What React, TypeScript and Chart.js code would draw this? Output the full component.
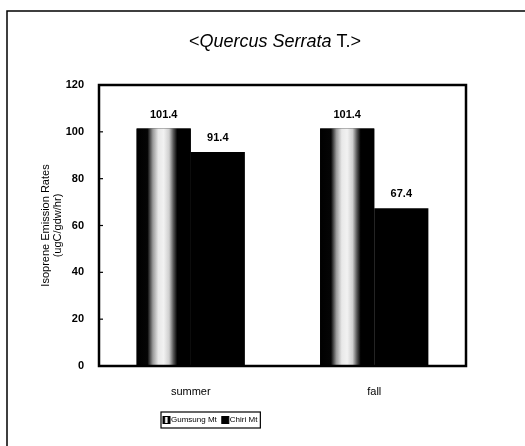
import React, { useEffect, useRef } from "react";
import { Chart, registerables } from "chart.js";

Chart.register(...registerables);

const categories = ["summer", "fall"];
const seriesNames = ["Gumsung Mt", "Chiri Mt"];
const gumsungValues = [101.4, 101.4];
const chiriValues = [91.4, 67.4];
const yTicks = [0, 20, 40, 60, 80, 100, 120];
const titleParts = [
  { text: "<", italic: false },
  { text: "Quercus Serrata", italic: true },
  { text: " T.>", italic: false },
];
const yTitle = ["Isoprene Emission Rates", "(ugC/gdw/hr)"];

const FONT = "'Liberation Sans', Arial, sans-serif";

function stripeGradient(ctx: CanvasRenderingContext2D, x0: number, x1: number) {
  const g = ctx.createLinearGradient(x0, 0, x1, 0);
  g.addColorStop(0, "#000");
  g.addColorStop(0.2, "#050505");
  g.addColorStop(0.3, "#9a9a9a");
  g.addColorStop(0.4, "#e8e8e8");
  g.addColorStop(0.5, "#f2f2f2");
  g.addColorStop(0.6, "#cfcfcf");
  g.addColorStop(0.68, "#555");
  g.addColorStop(0.75, "#000");
  g.addColorStop(1, "#000");
  return g;
}

const decorPlugin = {
  id: "decor",
  afterDatasetsDraw(chart: any) {
    const ctx: CanvasRenderingContext2D = chart.ctx;
    const area = chart.chartArea;
    const meta0 = chart.getDatasetMeta(0);
    meta0.data.forEach((el: any) => {
      const x0 = el.x - el.width / 2;
      const x1 = el.x + el.width / 2;
      ctx.save();
      ctx.fillStyle = stripeGradient(ctx, x0, x1);
      ctx.fillRect(x0, el.y, el.width, el.base - el.y);
      ctx.restore();
    });
    ctx.save();
    ctx.fillStyle = "#000";
    ctx.font = `bold 11px ${FONT}`;
    ctx.textAlign = "center";
    ctx.textBaseline = "middle";
    chart.data.datasets.forEach((ds: any, di: number) => {
      const meta = chart.getDatasetMeta(di);
      meta.data.forEach((el: any, i: number) => {
        ctx.fillText(ds.data[i].toFixed(1), el.x, el.y - 14);
      });
    });
    ctx.restore();
    ctx.save();
    ctx.strokeStyle = "#000";
    ctx.lineWidth = 2.5;
    ctx.strokeRect(area.left, area.top, area.right - area.left, area.bottom - area.top);
    const ys = chart.scales.y;
    ctx.lineWidth = 1.2;
    ys.ticks.forEach((t: any) => {
      const py = ys.getPixelForValue(t.value);
      ctx.beginPath();
      ctx.moveTo(area.left, py);
      ctx.lineTo(area.left + 4, py);
      ctx.stroke();
    });
    ctx.restore();
  },
  afterDraw(chart: any) {
    const ctx: CanvasRenderingContext2D = chart.ctx;
    const area = chart.chartArea;
    ctx.save();
    ctx.strokeStyle = "#000";
    ctx.lineWidth = 1.5;
    ctx.beginPath();
    ctx.moveTo(7, chart.height);
    ctx.lineTo(7, 11);
    ctx.lineTo(chart.width, 11);
    ctx.stroke();
    ctx.restore();

    ctx.save();
    ctx.fillStyle = "#000";
    ctx.textBaseline = "alphabetic";
    ctx.textAlign = "left";
    const fontFor = (it: boolean) => `${it ? "italic " : ""}18px ${FONT}`;
    let total = 0;
    titleParts.forEach((p) => {
      ctx.font = fontFor(p.italic);
      total += ctx.measureText(p.text).width;
    });
    let x = 275 - total / 2;
    titleParts.forEach((p) => {
      ctx.font = fontFor(p.italic);
      ctx.fillText(p.text, x, 47);
      x += ctx.measureText(p.text).width;
    });
    ctx.restore();

    ctx.save();
    ctx.fillStyle = "#000";
    ctx.font = `11px ${FONT}`;
    ctx.textAlign = "center";
    ctx.textBaseline = "middle";
    const cy = (area.top + area.bottom) / 2;
    ctx.translate(46, cy);
    ctx.rotate(-Math.PI / 2);
    ctx.fillText(yTitle[0], 0, 0);
    ctx.fillText(yTitle[1], 0, 12);
    ctx.restore();

    ctx.save();
    ctx.font = `8px ${FONT}`;
    ctx.textBaseline = "middle";
    ctx.textAlign = "left";
    const lx = 161, ly = 412, lh = 16;
    const box = 7;
    let cx = lx + 2;
    const mid = ly + lh / 2;
    chart.data.datasets.forEach((ds: any, i: number) => {
      ctx.fillStyle = i === 0 ? stripeGradient(ctx, cx, cx + box) : "#000";
      ctx.fillRect(cx, mid - box / 2, box, box);
      ctx.strokeStyle = "#000";
      ctx.lineWidth = 1;
      ctx.strokeRect(cx, mid - box / 2, box, box);
      cx += box + 1;
      ctx.fillStyle = "#000";
      ctx.fillText(ds.label, cx, mid);
      cx += ctx.measureText(ds.label).width + 5;
    });
    ctx.strokeStyle = "#000";
    ctx.lineWidth = 1.2;
    ctx.strokeRect(lx, ly, cx - lx - 2, lh);
    ctx.restore();
  },
};

export default function App() {
  const ref = useRef<HTMLCanvasElement | null>(null);
  useEffect(() => {
    if (!ref.current) return;
    const chart = new Chart(ref.current, {
      type: "bar",
      data: {
        labels: categories,
        datasets: [
          { label: seriesNames[0], data: gumsungValues, backgroundColor: "#000", borderWidth: 0 },
          { label: seriesNames[1], data: chiriValues, backgroundColor: "#000", borderWidth: 0 },
        ],
      },
      options: {
        responsive: false,
        animation: false,
        layout: { padding: { top: 85, right: 59, bottom: 0, left: 0 } },
        plugins: { legend: { display: false }, title: { display: false }, tooltip: { enabled: false } },
        datasets: { bar: { categoryPercentage: 0.59, barPercentage: 1 } },
        scales: {
          x: {
            grid: { display: false, drawTicks: false },
            border: { display: false },
            ticks: { color: "#000", font: { family: FONT, size: 11 }, padding: 19 },
            afterFit: (s: any) => { s.height = 80; },
          },
          y: {
            min: 0,
            max: 120,
            grid: { display: false, drawTicks: false },
            border: { display: false },
            afterBuildTicks: (s: any) => { s.ticks = yTicks.map((v) => ({ value: v })); },
            ticks: { color: "#000", font: { family: FONT, size: 11, weight: "bold" }, padding: 15 },
            afterFit: (s: any) => { s.width = 99; },
          },
        },
      },
      plugins: [decorPlugin],
    });
    return () => chart.destroy();
  }, []);
  return (
    <div style={{ position: "fixed", left: 0, top: 0, width: 525, height: 446, background: "#fff" }}>
      <canvas ref={ref} width={525} height={446} style={{ display: "block" }} />
    </div>
  );
}
